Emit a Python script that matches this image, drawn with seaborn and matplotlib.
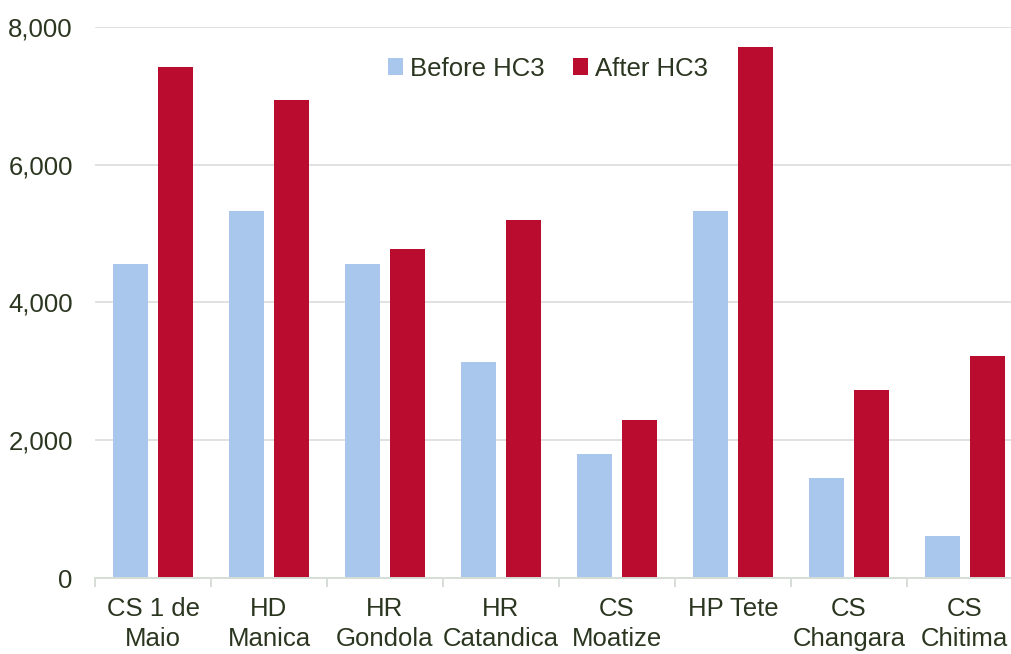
import matplotlib
matplotlib.use("Agg")
import matplotlib.pyplot as plt
from matplotlib.ticker import FuncFormatter, FixedLocator
import seaborn as sns
import pandas as pd

# Facility names (two-line tick labels)
facilities = ["CS 1 de\nMaio", "HD\nManica", "HR\nGondola", "HR\nCatandica",
              "CS\nMoatize", "HP Tete", "CS\nChangara", "CS\nChitima"]
before_hc3 = [4550, 5330, 4550, 3130, 1800, 5330, 1450, 610]
after_hc3 = [7420, 6930, 4780, 5190, 2290, 7710, 2730, 3220]
series = ["Before HC3", "After HC3"]
colors = ["#A9C6EC", "#BA0C2F"]

df = pd.DataFrame({
    "facility": facilities * 2,
    "value": before_hc3 + after_hc3,
    "period": [series[0]] * len(facilities) + [series[1]] * len(facilities),
})

sns.set_theme(style="white")
plt.rcParams["font.family"] = ["Liberation Sans", "DejaVu Sans"]
text_color = "#2B3620"
grid_color = "#D9D9D9"
axis_color = "#D6DDD6"

fig = plt.figure(figsize=(10.11, 6.54), dpi=100)
ax = fig.add_axes([0.094, 0.1162, 0.9176, 0.843])

sns.barplot(data=df, x="facility", y="value", hue="period", hue_order=series,
            palette=colors, width=0.78, gap=0.23, saturation=1,
            linewidth=0, edgecolor="none", ax=ax, legend=True)

ax.set_ylim(0, 8000)
ax.set_xlim(-0.5, len(facilities) - 0.5)
ax.set_yticks([0, 2000, 4000, 6000, 8000])
ax.yaxis.set_major_formatter(FuncFormatter(lambda v, p: f"{int(v):,}"))
ax.grid(axis="y", color=grid_color, linewidth=1.1)
ax.set_axisbelow(True)
ax.set_xlabel("")
ax.set_ylabel("")

for side in ["left", "right", "top"]:
    ax.spines[side].set_visible(False)
ax.spines["bottom"].set_color(axis_color)
ax.spines["bottom"].set_linewidth(1.4)
ax.spines["bottom"].set_zorder(5)

ax.tick_params(axis="y", length=0, pad=16, labelsize=18.5, labelcolor=text_color)
ax.tick_params(axis="x", which="major", length=0, pad=14, labelsize=18.5,
               labelcolor=text_color)
ax.xaxis.set_minor_locator(FixedLocator([i - 0.5 for i in range(len(facilities) + 1)]))
ax.tick_params(axis="x", which="minor", bottom=True, direction="out", length=6.5,
               width=1.4, color=axis_color)
for lbl in ax.get_xticklabels():
    lbl.set_linespacing(1.3)

handles, labels = ax.get_legend_handles_labels()
ax.legend(handles, labels, loc="center", bbox_to_anchor=(0.488, 0.924), ncol=2,
          frameon=False, fontsize=18.5, labelcolor=text_color,
          handlelength=0.6, handleheight=0.6, handletextpad=0.25,
          columnspacing=1.1)

fig.savefig("out.png", dpi=100)
